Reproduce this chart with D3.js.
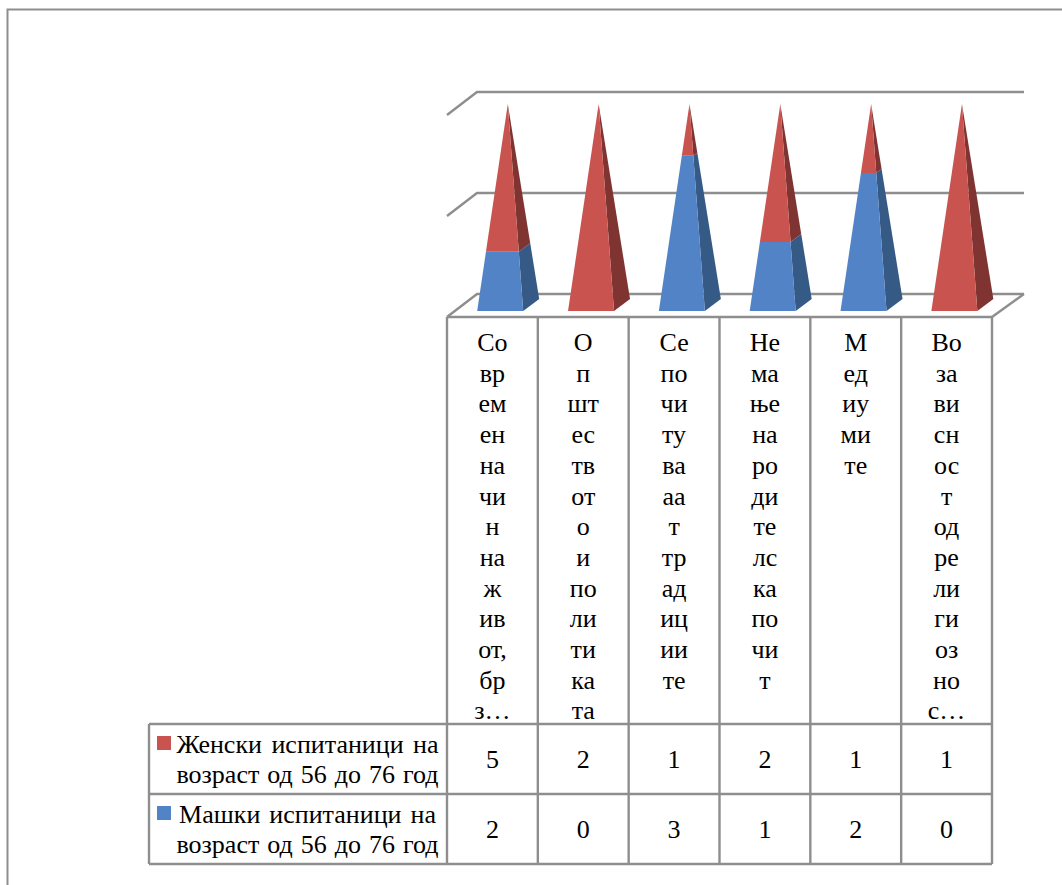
<!DOCTYPE html>
<html>
<head>
<meta charset="utf-8">
<script src="https://cdn.jsdelivr.net/npm/d3@7"></script>
<style>
html,body{margin:0;padding:0;background:#fff;overflow:hidden}
svg{display:block}
text{font-family:"Liberation Serif",serif;font-size:26px;fill:#000}
</style>
</head>
<body>
<script>
var width = 1062;
var height = 885;

// categories as the chart wraps them in the table header
var categoryLines = [
  ["Со","вр","ем","ен","на","чи","н","на","ж","ив","от,","бр","з…"],
  ["О","п","шт","ес","тв","от","о","и","по","ли","ти","ка","та"],
  ["Се","по","чи","ту","ва","аа","т","тр","ад","иц","ии","те"],
  ["Не","ма","ње","на","ро","ди","те","лс","ка","по","чи","т"],
  ["М","ед","иу","ми","те"],
  ["Во","за","ви","сн","ос","т","од","ре","ли","ги","оз","но","с…"]
];
var women = [5,2,1,2,1,1];
var men = [2,0,3,1,2,0];
var seriesNames = [
  ["Женски испитаници на","возраст од 56 до 76 год"],
  ["Машки испитаници на","возраст од 56 до 76 год"]
];
var legendSpacing = [[3,1.5],[2.5,1.5]];
var gridTicks = [0,0.5,1];

var red = {front:"#c9544f",side:"#7f3432"};
var blue = {front:"#5283c6",side:"#355a85"};
var lineColor = "#8e8e8e";
var lineW = 2.4;

var svg = d3.select("body").append("svg")
            .attr("width",width)
            .attr("height",height);

// outer frame, runs off the right and bottom of the picture
svg.append("path")
   .attr("d","M7.5,885V9.5H1062")
   .attr("fill","none")
   .attr("stroke",lineColor)
   .attr("stroke-width",2);

var idx = d3.range(categoryLines.length);
var x = d3.scaleBand().domain(idx).range([447,992]);
var y = d3.scaleLinear().domain([0,1]).range([311,104]);
var gridY = d3.scaleLinear().domain([0,1]).range([294,92]);

var dx = 30, dy = 23;   // wall depth
var g = svg.append("g").attr("fill","none").attr("stroke",lineColor).attr("stroke-width",lineW);

// back wall gridlines with the short left return
g.selectAll("path.grid")
 .data(gridTicks)
 .enter()
 .append("path")
 .attr("class","grid")
 .attr("d",function(d){
   var yy = gridY(d);
   return "M"+(447)+","+(yy+dy)+"L"+(447+dx)+","+yy+"H1024";
 });
// floor
g.append("path").attr("d","M1024,294L992,317");

// 100% stack, men at the bottom
var rows = idx.map(function(i){ return {i:i,men:men[i],women:women[i]}; });
var stack = d3.stack().keys(["men","women"]).offset(d3.stackOffsetExpand);
var layers = stack(rows);

var pw = 46, pox = 30.2, sideX = 16, sideY = 12, apexX = 30.6;
var line = d3.line();

function lerp(p,apex,t){ return [p[0]+(apex[0]-p[0])*t, p[1]+(apex[1]-p[1])*t]; }

function faces(i,t0,t1){
  var left = x(i)+pox;
  var apex = [left+apexX,y(1)];
  var a = [left,y(0)], b = [left+pw,y(0)], c = [left+pw+sideX,y(0)-sideY];
  return {
    front:[lerp(a,apex,t0),lerp(b,apex,t0),lerp(b,apex,t1),lerp(a,apex,t1)],
    side:[lerp(b,apex,t0),lerp(c,apex,t0),lerp(c,apex,t1),lerp(b,apex,t1)]
  };
}

var colors = {men:blue,women:red};
layers.forEach(function(layer){
  var c = colors[layer.key];
  var marks = svg.append("g").selectAll("g")
     .data(layer.filter(function(d){ return d[1]>d[0]; }))
     .enter()
     .append("g");
  marks.append("path")
     .attr("fill",c.side)
     .attr("d",function(d){ return line(faces(d.data.i,d[0],d[1]).side)+"Z"; });
  marks.append("path")
     .attr("fill",c.front)
     .attr("d",function(d){ return line(faces(d.data.i,d[0],d[1]).front)+"Z"; });
});

// data table
var tableTop = 317, rowTop = 724, rowH = 70, tableLeft = 149;
var t = svg.append("g").attr("fill","none").attr("stroke",lineColor).attr("stroke-width",lineW);
t.append("path").attr("d","M447,"+tableTop+"H992");
t.selectAll("path.col")
 .data(idx.concat(idx.length))
 .enter()
 .append("path")
 .attr("class","col")
 .attr("d",function(i){
   var xx = i<idx.length ? x(i) : 992;
   return "M"+xx+","+tableTop+"V"+(rowTop+2*rowH);
 });
[0,1,2].forEach(function(r){
  t.append("path").attr("d","M"+tableLeft+","+(rowTop+r*rowH)+"H992");
});
t.append("path").attr("d","M"+tableLeft+","+rowTop+"V"+(rowTop+2*rowH));

// wrapped category labels
var labels = svg.append("g").attr("text-anchor","middle");
categoryLines.forEach(function(lines,i){
  labels.selectAll(null)
    .data(lines)
    .enter()
    .append("text")
    .attr("x",x(i)+x.bandwidth()/2)
    .attr("y",function(d,k){ return 351+k*30.7; })
    .text(function(d){ return d; });
});

// value rows
[women,men].forEach(function(vals,r){
  labels.selectAll(null)
    .data(vals)
    .enter()
    .append("text")
    .attr("x",function(d,i){ return x(i)+x.bandwidth()/2; })
    .attr("y",rowTop+r*rowH+44)
    .text(function(d){ return d; });
});

// legend cells
[red,blue].forEach(function(c,r){
  svg.append("rect")
     .attr("x",157).attr("y",rowTop+12+r*rowH)
     .attr("width",14).attr("height",14)
     .attr("fill",c.front);
  seriesNames[r].forEach(function(s,k){
    svg.append("text")
       .attr("x",307.5)
       .attr("y",rowTop+29+r*rowH+k*30)
       .attr("text-anchor","middle")
       .attr("word-spacing",legendSpacing[r][k]+"px")
       .text(s);
  });
});
</script>
</body>
</html>
